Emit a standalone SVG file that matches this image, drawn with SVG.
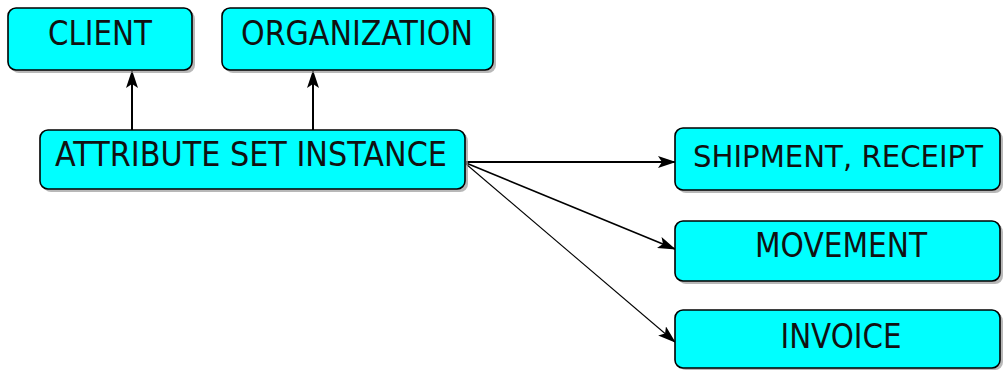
<svg xmlns="http://www.w3.org/2000/svg" width="1003" height="370" viewBox="0 0 1003 370">
  <style>
    .box { fill: #00ffff; stroke: #000; stroke-width: 1.6; }
    .shadow { fill: #9a9a9a; opacity: 0.7; }
    .label { font-family: "DejaVu Sans", "Liberation Sans", sans-serif; font-size: 34px; fill: #111; text-anchor: middle; }
    .narrow { font-size: 30px; }
    .edge { stroke: #000; fill: none; }
  </style>
  <defs>
    <marker id="arrow" viewBox="0 0 18 12" refX="17" refY="6" markerWidth="18" markerHeight="12" markerUnits="userSpaceOnUse" orient="auto">
      <path d="M0,0 L18,6 L0,12 L4,6 Z" fill="#000"/>
    </marker>
  </defs>

  <!-- connectors -->
  <g id="connectors">
    <line class="edge" x1="132" y1="130" x2="132" y2="71" stroke-width="2" marker-end="url(#arrow)"/>
    <line class="edge" x1="313" y1="130" x2="313" y2="71" stroke-width="2" marker-end="url(#arrow)"/>
    <line class="edge" x1="466" y1="162" x2="675" y2="162" stroke-width="2" marker-end="url(#arrow)"/>
    <line class="edge" x1="466" y1="163" x2="675" y2="249" stroke-width="1.6" marker-end="url(#arrow)"/>
    <line class="edge" x1="466" y1="164" x2="675" y2="342" stroke-width="1.1" marker-end="url(#arrow)"/>
  </g>

  <!-- nodes -->
  <g id="client">
    <rect class="shadow" x="11" y="11" width="184" height="62" rx="8"/>
    <rect class="box" x="8" y="8" width="184" height="62" rx="8"/>
    <text class="label" x="100" y="45" textLength="104" lengthAdjust="spacingAndGlyphs">CLIENT</text>
  </g>
  <g id="organization">
    <rect class="shadow" x="225" y="11" width="271" height="62" rx="8"/>
    <rect class="box" x="222" y="8" width="271" height="62" rx="8"/>
    <text class="label" x="357" y="45" textLength="232" lengthAdjust="spacingAndGlyphs">ORGANIZATION</text>
  </g>
  <g id="attribute-set-instance">
    <rect class="shadow" x="43" y="133" width="425" height="59" rx="8"/>
    <rect class="box" x="40" y="130" width="425" height="59" rx="8"/>
    <text class="label" x="251" y="166" textLength="392" lengthAdjust="spacingAndGlyphs">ATTRIBUTE SET INSTANCE</text>
  </g>
  <g id="shipment-receipt">
    <rect class="shadow" x="678" y="131" width="325" height="62" rx="8"/>
    <rect class="box" x="675" y="128" width="325" height="62" rx="8"/>
    <text class="label narrow" x="838" y="167" textLength="290" lengthAdjust="spacingAndGlyphs">SHIPMENT, RECEIPT</text>
  </g>
  <g id="movement">
    <rect class="shadow" x="678" y="224" width="325" height="60" rx="8"/>
    <rect class="box" x="675" y="221" width="325" height="60" rx="8"/>
    <text class="label" x="841" y="257" textLength="172" lengthAdjust="spacingAndGlyphs">MOVEMENT</text>
  </g>
  <g id="invoice">
    <rect class="shadow" x="678" y="313" width="325" height="57" rx="8"/>
    <rect class="box" x="675" y="310" width="325" height="58" rx="8"/>
    <text class="label" x="841" y="348" textLength="121" lengthAdjust="spacingAndGlyphs">INVOICE</text>
  </g>
</svg>
